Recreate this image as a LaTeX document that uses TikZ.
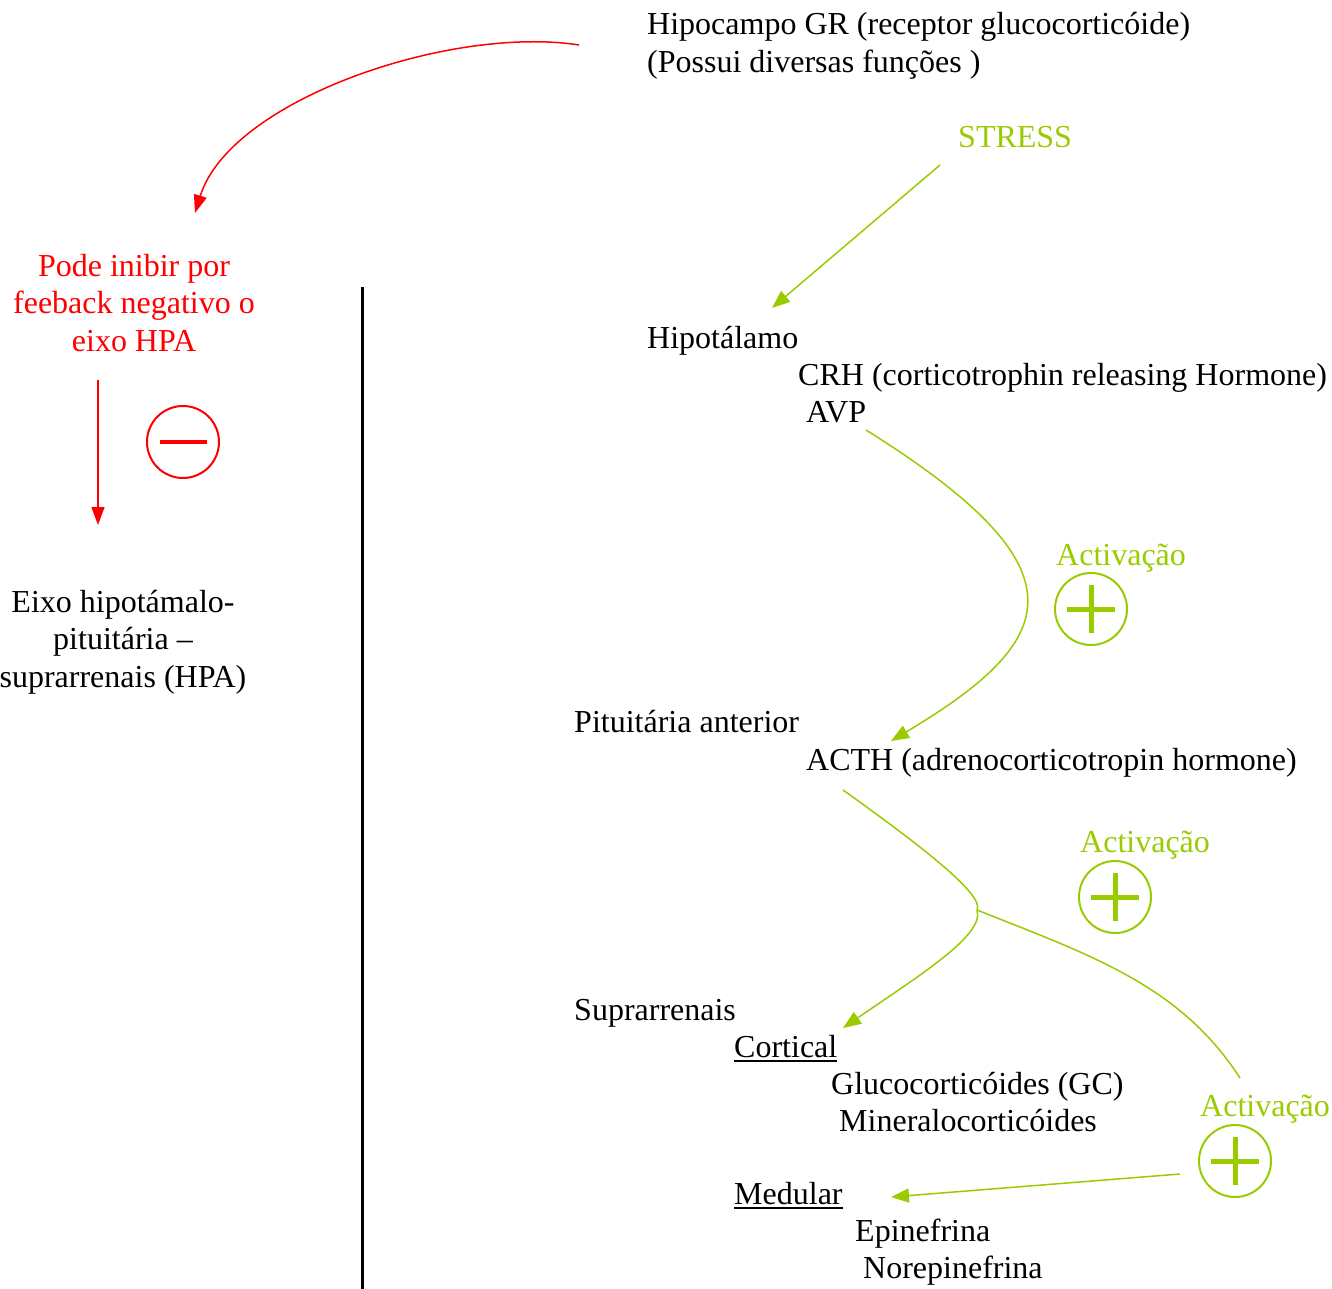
\documentclass[tikz,border=0pt]{standalone}
\usepackage{fontspec}
\setmainfont{Liberation Serif}
\usetikzlibrary{arrows.meta}
\definecolor{lgreen}{RGB}{153,204,0}
\definecolor{pred}{RGB}{255,0,0}
\begin{document}
\begin{tikzpicture}[x=1pt,y=-1pt,
 txt/.style={inner sep=0pt, anchor=base west, font=\fontsize{32}{37.5}\selectfont},
 ctxt/.style={inner sep=0pt, anchor=base, align=center, font=\fontsize{32}{37.5}\selectfont},
 garrow/.style={draw=lgreen, line width=1.5pt, -{Triangle[length=18pt,width=14pt]}},
 gline/.style={draw=lgreen, line width=1.5pt},
 rarrow/.style={draw=pred, line width=1.5pt, -{Triangle[length=18pt,width=13pt]}},
 signcirc/.style={circle, draw, line width=2pt, minimum size=72pt, inner sep=0pt},
 ulin/.style={line width=2pt},
]
\useasboundingbox (0,0) rectangle (1332,1289);

% texts (right column)
\node[txt] (hip1) at (647,35) {Hipocampo GR (receptor glucocorticóide)};
\node[txt] (hip2) at (647,73) {(Possui diversas funções )};
\node[txt, text=lgreen] (stress) at (958,148) {STRESS};
\node[txt] (hipot) at (647,348) {Hipotálamo};
\node[txt] (crh) at (798,385) {CRH (corticotrophin releasing Hormone)};
\node[txt] (avp) at (806,422) {AVP};
\node[txt, text=lgreen] (act1) at (1056,565) {Activação};
\node[txt] (pit) at (574,732) {Pituitária anterior};
\node[txt] (acth) at (806,770) {ACTH (adrenocorticotropin hormone)};
\node[txt, text=lgreen] (act2) at (1080,852) {Activação};
\node[txt] (supra) at (574,1020) {Suprarrenais};
\node[txt] (cort) at (734,1057) {Cortical};
\node[txt] (gluco) at (831,1094) {Glucocorticóides (GC)};
\node[txt] (miner) at (839,1131) {Mineralocorticóides};
\node[txt, text=lgreen] (act3) at (1200,1116) {Activação};
\node[txt] (med) at (734,1204) {Medular};
\node[txt] (epi) at (855,1241) {Epinefrina};
\node[txt] (norepi) at (863,1278) {Norepinefrina};

\draw[ulin] ([yshift=-4pt]cort.base west) -- ([yshift=-4pt]cort.base east);
\draw[ulin] ([yshift=-4pt]med.base west) -- ([yshift=-4pt]med.base east);

% left column (base anchor = last line)
\node[ctxt, text=pred] (inib) at (134,351) {Pode inibir por\\feeback negativo o\\eixo HPA};
\node[ctxt] (eixo) at (123,687) {Eixo hipotámalo-\\pituitária –\\suprarrenais (HPA)};

% sign circles
\node[signcirc, draw=lgreen] (c1) at (1091,609) {};
\node[signcirc, draw=lgreen] (c2) at (1115,897) {};
\node[signcirc, draw=lgreen] (c3) at (1235,1161) {};
\node[signcirc, draw=pred] (cm) at (183,442) {};
\foreach \c in {c1,c2,c3}{
  \draw[lgreen, line width=5pt] ([xshift=-24pt]\c.center) -- ([xshift=24pt]\c.center);
  \draw[lgreen, line width=5pt] ([yshift=-24pt]\c.center) -- ([yshift=24pt]\c.center);
}
\draw[pred, line width=4.5pt] ([xshift=-23pt]cm.center) -- ([xshift=24pt]cm.center);

% divider
\coordinate (d1) at (362,287);
\coordinate (d2) at (362,1289);
\draw[line width=3pt] (d1) -- (d2);

% connectors
\coordinate (r1) at (579,45);
\coordinate (r2) at (195,213);
\draw[rarrow] (r1) .. controls (450,25) and (230,100) .. (r2);
\coordinate (r3) at (98,380);
\coordinate (r4) at (98,525);
\draw[rarrow] (r3) -- (r4);

\coordinate (s1) at (940,165);
\coordinate (s2) at (772,308);
\draw[garrow] (s1) -- (s2);

\coordinate (a1) at (866,430);
\coordinate (a2) at (891,741);
\draw[garrow] (a1) .. controls (1090,570) and (1060,640) .. (a2);

\coordinate (b1) at (843,790);
\coordinate (split) at (977,910);
\coordinate (b2) at (843,1028);
\coordinate (b3) at (1240,1078);
\draw[gline] (b1) .. controls (920,845) and (985,895) .. (split);
\draw[garrow] (split) .. controls (985,935) and (920,975) .. (b2);
\draw[gline] (split) .. controls (1090,955) and (1180,985) .. (b3);

\coordinate (m1) at (1180,1174);
\coordinate (m2) at (891,1197);
\draw[garrow] (m1) -- (m2);
\end{tikzpicture}
\end{document}
